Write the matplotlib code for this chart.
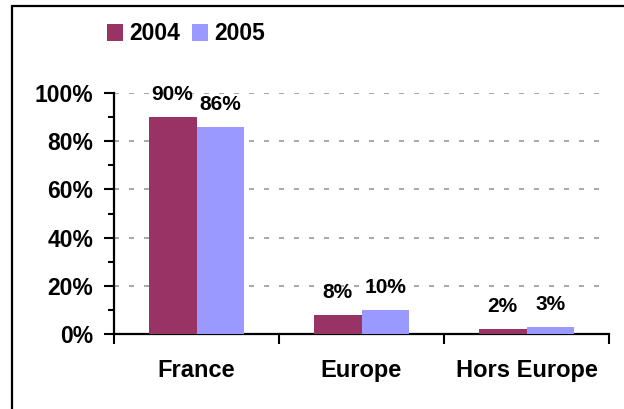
import matplotlib
matplotlib.use("Agg")
import matplotlib.pyplot as plt
from matplotlib.patches import Rectangle, Patch
import numpy as np

plt.rcParams['font.family'] = ['Liberation Sans', 'DejaVu Sans']
plt.rcParams['font.weight'] = 'bold'

categories = ["France", "Europe", "Hors Europe"]
series_names = ["2004", "2005"]
values_2004 = [90, 8, 2]
values_2005 = [86, 10, 3]
yticks = [0, 20, 40, 60, 80, 100]
colors = ["#993366", "#9999FF"]

fig = plt.figure(figsize=(6.24, 4.09), dpi=100)
ax = fig.add_axes([114/624, 1-334/409, (609-114)/624, (334-93)/409])

x = np.arange(len(categories))
w = 0.29
b1 = ax.bar(x - w/2, values_2004, w, color=colors[0], zorder=3)
b2 = ax.bar(x + w/2, values_2005, w, color=colors[1], zorder=3)

for bars, vals in ((b1, values_2004), (b2, values_2005)):
    for r, v in zip(bars, vals):
        ax.annotate(f"{v}%", (r.get_x() + r.get_width()/2, v), xytext=(0, 16),
                    textcoords="offset points", ha="center", va="center",
                    fontsize=15, fontweight="bold", zorder=4)

ax.set_xlim(-0.5, len(categories) - 0.5)
ax.set_ylim(0, 100)

ax.set_yticks(yticks)
ax.set_yticklabels([f"{t}%" for t in yticks])
ax.set_yticks(np.arange(10, 100, 20), minor=True)
ax.tick_params(axis='y', which='major', length=7, width=1.5, labelsize=16.5, pad=8)
ax.tick_params(axis='y', which='minor', length=4, width=1.5)

ax.set_xticks(np.arange(-0.5, len(categories), 1))
ax.set_xticklabels([])
ax.set_xticks(x, minor=True)
ax.set_xticklabels(categories, minor=True)
ax.tick_params(axis='x', which='major', length=7, width=1.5, direction='out')
ax.tick_params(axis='x', which='minor', length=0, labelsize=17, pad=18)

for s in ('top', 'right'):
    ax.spines[s].set_visible(False)
for s in ('left', 'bottom'):
    ax.spines[s].set_linewidth(1.6)

for t in yticks[1:]:
    ax.axhline(t, color="#999999", lw=1.2, dashes=(3, 6), zorder=1)

handles = [Patch(facecolor=c, edgecolor='none') for c in colors]
fig.legend(handles, series_names, loc='center left',
           bbox_to_anchor=(107/624, 1-34/409), ncol=2, frameon=False,
           handlelength=0.7, handleheight=0.7,
           handletextpad=0.25, columnspacing=0.55, borderpad=0, borderaxespad=0,
           prop={'weight': 'bold', 'size': 16.5})

fig.patches.append(Rectangle((12/624, -0.2), 1.2, 1.2 - 6/409,
                             transform=fig.transFigure, fill=False,
                             edgecolor='black', lw=1.6))

fig.savefig("out.png", dpi=100)
